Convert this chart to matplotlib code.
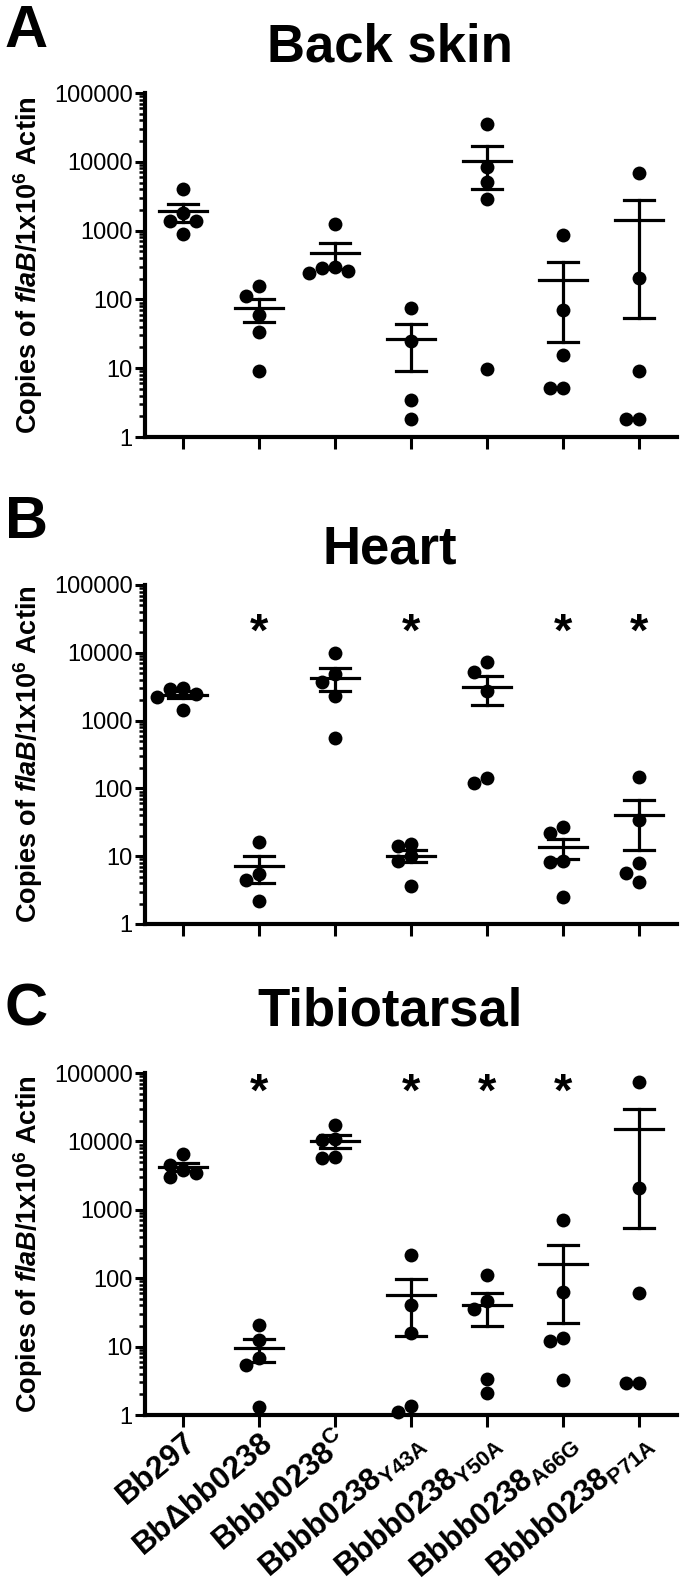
import numpy as np
import matplotlib
matplotlib.use("Agg")
import matplotlib.pyplot as plt
import matplotlib.transforms as mtransforms
from matplotlib.ticker import LogLocator, NullFormatter, FixedLocator, FixedFormatter

plt.rcParams['font.family'] = ['Liberation Sans', 'DejaVu Sans']
plt.rcParams['mathtext.fontset'] = 'custom'
plt.rcParams['mathtext.rm'] = 'Liberation Sans:bold'
plt.rcParams['mathtext.it'] = 'Liberation Sans:bold:italic'
plt.rcParams['mathtext.bf'] = 'Liberation Sans:bold'

# strain names on the x axis
strains = [
    'Bb297',
    'Bb\u0394bb0238',
    'Bbbb0238$^{\\mathrm{C}}$',
    'Bbbb0238$_{\\mathrm{Y43A}}$',
    'Bbbb0238$_{\\mathrm{Y50A}}$',
    'Bbbb0238$_{\\mathrm{A66G}}$',
    'Bbbb0238$_{\\mathrm{P71A}}$',
]

# copies of flaB per 1x10^6 actin, one list per strain
back_skin = [
    [4000, 1800, 1400, 1400, 900],
    [157, 112, 60, 34, 9],
    [1250, 300, 290, 260, 240],
    [75, 25, 3.4, 1.8],
    [35200, 8500, 5100, 2900, 9.7],
    [850, 71, 15.7, 5.1, 5.1],
    [6900, 207, 9.2, 1.85, 1.85],
]
heart = [
    [3000, 2900, 2500, 2200, 1450],
    [16, 5.5, 4.5, 2.2],
    [10000, 4950, 3720, 2290, 546],
    [15, 14, 10, 8.5, 3.6],
    [7360, 5260, 2760, 141, 121],
    [27, 21.7, 8.6, 8.3, 2.5],
    [148, 34, 8, 5.6, 4.2],
]
tibiotarsal = [
    [6500, 4500, 3800, 3500, 3000],
    [21, 12.5, 6.7, 5.4, 1.33],
    [17500, 11000, 10500, 6000, 5800],
    [222, 41, 15.7, 1.37, 1.12],
    [113, 46, 35, 3.4, 2.1],
    [721, 62, 13.3, 11.9, 3.3],
    [74000, 2090, 60, 2.9, 2.9],
]

panels = ['A', 'B', 'C']
titles = ['Back skin', 'Heart', 'Tibiotarsal']
datasets = [back_skin, heart, tibiotarsal]
# strains marked significant in each panel
stars = [[], [1, 3, 5, 6], [1, 3, 4, 5]]
star_level = [None, 10 ** 4.49, 10 ** 4.9]

yticks = [1, 10, 100, 1000, 10000, 100000]


def swarm(vals, w=0.17, px_x=76.0, px_dec=68.0, diam=13.0):
    # prism-like spread: each point goes to the first free slot
    placed = []
    offs = []
    for v in vals:
        ly = np.log10(v) * px_dec
        for cand in [0, -w, w, -2 * w, 2 * w]:
            ok = True
            for (px, py) in placed:
                if np.hypot((cand - px) * px_x, ly - py) < diam * 0.9:
                    ok = False
                    break
            if ok:
                break
        placed.append((cand, ly))
        offs.append(cand)
    return offs


fig = plt.figure(figsize=(6.8, 15.91), dpi=100)
W, H = 680.0, 1591.0
boxes = [(93, 437), (585, 924), (1073, 1415)]
title_y = [62, 564, 1026]
letter_y = [47, 538, 1025]

for k in range(3):
    top, bot = boxes[k]
    ax = fig.add_axes([145 / W, (H - bot) / H, 532 / W, (bot - top) / H])
    data = datasets[k]
    for i, vals in enumerate(data):
        vals = np.array(vals, dtype=float)
        offs = swarm(vals)
        ax.plot(i + np.array(offs), vals, 'o', color='black', ms=10, mew=0,
                clip_on=False, zorder=3)
        m = vals.mean()
        sem = vals.std(ddof=1) / np.sqrt(len(vals))
        ax.plot([i - 0.32, i + 0.32], [m, m], color='black', lw=2.3, zorder=4)
        ax.plot([i, i], [m - sem, m + sem], color='black', lw=2.3, zorder=4)
        ax.plot([i - 0.2, i + 0.2], [m + sem, m + sem], color='black', lw=2.3, zorder=4)
        ax.plot([i - 0.2, i + 0.2], [m - sem, m - sem], color='black', lw=2.3, zorder=4)
    for i in stars[k]:
        ax.annotate('*', (i, star_level[k]), xytext=(0, -0.55 * 34),
                    textcoords='offset points', ha='center', va='baseline',
                    fontsize=34, fontweight='bold')

    ax.set_yscale('log')
    ax.set_ylim(1, 100000)
    ax.set_xlim(-0.5, 6.5)
    ax.yaxis.set_major_locator(FixedLocator(yticks))
    ax.yaxis.set_major_formatter(FixedFormatter([str(t) for t in yticks]))
    ax.yaxis.set_minor_locator(LogLocator(base=10, subs=np.arange(2, 10), numticks=20))
    ax.yaxis.set_minor_formatter(NullFormatter())
    ax.set_xticks(range(7))
    if k == 2:
        ax.set_xticklabels(strains, rotation=40, ha='right', va='top',
                           rotation_mode='anchor', fontsize=22.5, fontweight='bold')
        shift = mtransforms.ScaledTranslation(14 / 100, 0, fig.dpi_scale_trans)
        for lab in ax.get_xticklabels():
            lab.set_transform(lab.get_transform() + shift)
    else:
        ax.set_xticklabels([])
    for lab in ax.get_yticklabels():
        lab.set_fontsize(17)
    ax.tick_params(axis='y', which='major', length=7, width=2.2, direction='out', pad=2)
    ax.tick_params(axis='y', which='minor', length=4, width=1.8)
    ax.tick_params(axis='x', which='major', length=8.5, width=2.2, direction='out', pad=0)
    ax.spines['top'].set_visible(False)
    ax.spines['right'].set_visible(False)
    ax.spines['left'].set_linewidth(3)
    ax.spines['bottom'].set_linewidth(3)
    ax.patch.set_alpha(0)

    ax.set_ylabel('Copies of $\\mathit{flaB}$/1x10$^{6}$ Actin', fontsize=19.5,
                  fontweight='bold')
    ax.yaxis.label.set_va('center')
    ax.yaxis.set_label_coords(-(145 - 28) / 532, 0.5)

    fig.text(390 / W, 1 - title_y[k] / H, titles[k], ha='center', va='baseline',
             fontsize=38, fontweight='bold')
    fig.text(26 / W, 1 - letter_y[k] / H, panels[k], ha='center', va='baseline',
             fontsize=43, fontweight='bold')

fig.savefig('out.png', dpi=100)
